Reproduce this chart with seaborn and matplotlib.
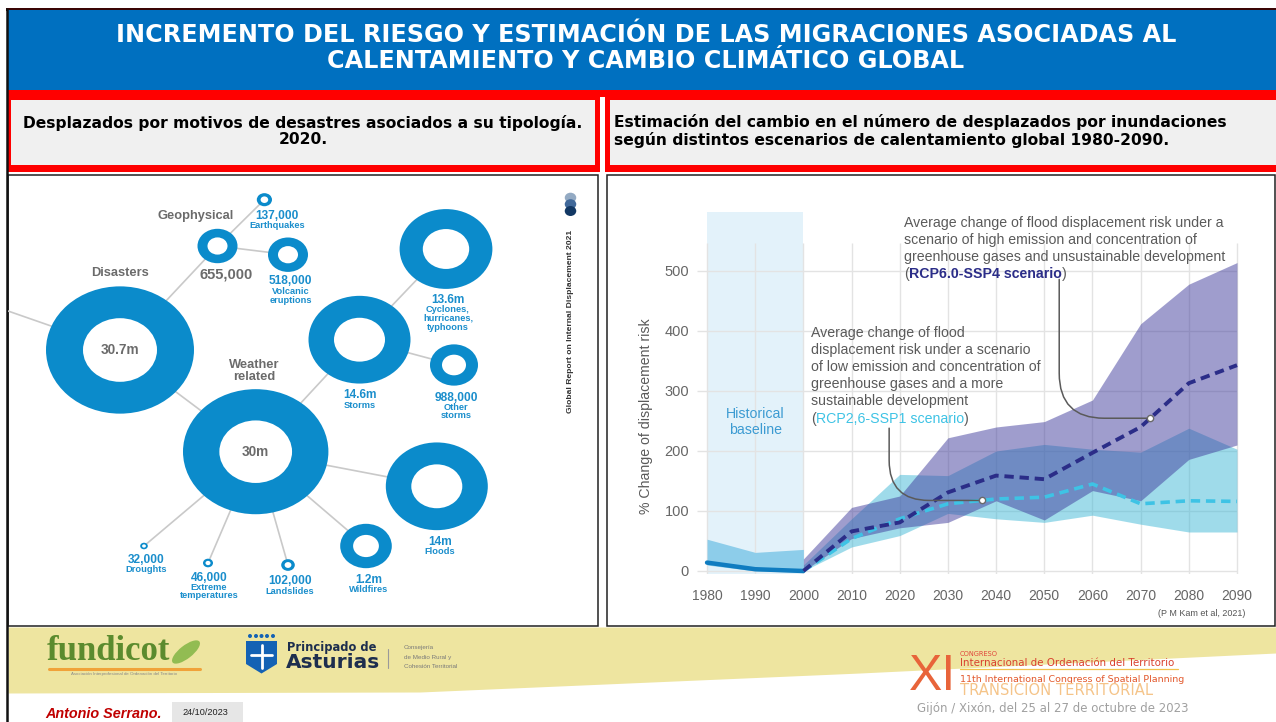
import numpy as np
import pandas as pd
import matplotlib
matplotlib.use("Agg")
import matplotlib.pyplot as plt
from matplotlib.patches import Rectangle, Ellipse, Polygon
from matplotlib import font_manager
import seaborn as sns

# ---------------------------------------------------------------- text content
TITLE = ["INCREMENTO DEL RIESGO Y ESTIMACIÓN DE LAS MIGRACIONES ASOCIADAS AL",
         "CALENTAMIENTO Y CAMBIO CLIMÁTICO GLOBAL"]
LEFT_SUB = ["Desplazados por motivos de desastres asociados a su tipología.", "2020."]
RIGHT_SUB = ["Estimación del cambio en el número de desplazados por inundaciones",
             "según distintos escenarios de calentamiento global 1980-2090."]

# ---------------------------------------------------------------- flood chart data
tick_years = [1980, 1990, 2000, 2010, 2020, 2030, 2040, 2050, 2060, 2070, 2080, 2090]
y_ticks = [0, 100, 200, 300, 400, 500]

hist_years = [1980, 1990, 2000]
hist_mean = [14, 3, 0]
hist_low = [10, 0, -2]
hist_high = [53, 31, 36]

proj_years = [2000, 2010, 2020, 2030, 2040, 2050, 2060, 2070, 2080, 2090]
rcp60_mean = [0, 66, 81, 131, 159, 153, 197, 240, 313, 343]
rcp60_low = [0, 54, 72, 81, 117, 85, 134, 117, 186, 210]
rcp60_high = [20, 106, 125, 222, 240, 249, 285, 412, 478, 514]
rcp26_mean = [0, 54, 87, 112, 120, 123, 145, 112, 117, 116]
rcp26_low = [0, 40, 59, 96, 87, 81, 93, 78, 65, 65]
rcp26_high = [10, 87, 161, 159, 200, 211, 203, 198, 238, 203]

note_high = ["Average change of flood displacement risk under a",
             "scenario of high emission and concentration of",
             "greenhouse gases and unsustainable development"]
note_high_tag = "RCP6.0-SSP4 scenario"
note_low = ["Average change of flood",
            "displacement risk under a scenario",
            "of low emission and concentration of",
            "greenhouse gases and a more",
            "sustainable development"]
note_low_tag = "RCP2,6-SSP1 scenario"
y_label = "% Change of displacement risk"
source = "(P M Kam et al, 2021)"

# ---------------------------------------------------------------- bubble infographic data
bubble_value_text = ["30.7m", "30m", "655,000", "137,000", "518,000", "14.6m", "13.6m",
                     "988,000", "14m", "1.2m", "102,000", "46,000", "32,000"]
bubble_names = ["Disasters", "Weather\nrelated", "Geophysical", "Earthquakes",
                "Volcanic\neruptions", "Storms", "Cyclones,\nhurricanes,\ntyphoons",
                "Other\nstorms", "Floods", "Wildfires", "Landslides",
                "Extreme\ntemperatures", "Droughts"]
bubble_parent = [-1, 0, 0, 2, 2, 1, 5, 5, 1, 1, 1, 1, 1]
bubble_level = ["top", "top", "top", "leaf", "leaf", "leaf", "leaf", "leaf",
                "leaf", "leaf", "leaf", "leaf", "leaf"]

# layout (pixel positions in the slide)
bub_cx = [120, 255.7, 217.5, 264.4, 288, 359.5, 446, 454, 436.8, 366, 288, 208, 144]
bub_cy = [350, 451.7, 246, 199.7, 254.7, 339.7, 249, 365, 486.3, 546, 565, 563, 546]
bub_rx = [74, 72.7, 20, 7.6, 20, 51, 46.4, 24, 51, 25.8, 6.8, 5.0, 3.8]
val_x = [120, 255.7, 225.8, 277, 290.6, 359.5, 448, 456, 440, 369, 290, 208.8, 146]
val_y = [350, 452, 274.7, 216, 281.3, 395.3, 300, 397.7, 542, 579.7, 581, 577.7, 560]
name_x = [120, 254, 195.5, 277, 291, 359.5, 448, 456, 440, 369, 290, 208.8, 146]
name_y = [273, 365.3, 216, 226, 291.5, 405.3, 309.3, 407, 551, 589, 591, 587, 570]

# ---------------------------------------------------------------- style
sns.set_theme(style="white")
avail = {f.name for f in font_manager.fontManager.ttflist}
plt.rcParams['font.family'] = ['Liberation Sans', 'DejaVu Sans']
NARROW = 'Liberation Sans Narrow' if 'Liberation Sans Narrow' in avail else 'Liberation Sans'
WIDE = ['DejaVu Sans']

BLUE_HDR = "#0070C0"
RED = "#FF0000"
GREY_BOX = "#F0F0F0"
RING = "#0B8BCB"
RING_TXT = "#1A8ECC"
CAT_TXT = "#6B6B6B"
NOTE_TXT = "#5A5A5A"
NAVY = "#2B2D88"
CYAN = "#3EC3E5"

W, H = 1276, 722
fig = plt.figure(figsize=(W / 100, H / 100), dpi=100)
fig.patch.set_facecolor("white")


def px_axes(x0, y0, x1, y1, z):
    return fig.add_axes([x0 / W, 1 - y1 / H, (x1 - x0) / W, (y1 - y0) / H], zorder=z)


bg = px_axes(0, 0, W, H, 0)
bg.set_xlim(0, W); bg.set_ylim(H, 0); bg.axis("off")
ov = px_axes(0, 0, W, H, 6)
ov.set_xlim(0, W); ov.set_ylim(H, 0); ov.axis("off")

# ---------------------------------------------------------------- header shapes
bg.add_patch(Rectangle((6, 8), W - 6, 2.5, color="#3A0505", lw=0))
bg.add_patch(Rectangle((8, 10), W - 8, 80, color=BLUE_HDR, lw=0))
bg.add_patch(Rectangle((8, 90), W - 8, 7, color=RED, lw=0))
bg.add_patch(Rectangle((8, 90), 592, 82, color=RED, lw=0))
bg.add_patch(Rectangle((10.5, 100), 584.5, 65, color=GREY_BOX, lw=0))
bg.add_patch(Rectangle((605, 90), W - 605, 82, color=RED, lw=0))
bg.add_patch(Rectangle((609.5, 100), W - 609.5, 65, color=GREY_BOX, lw=0))
bg.add_patch(Rectangle((600, 97), 5, 80, color="white", lw=0))

# panels
bg.add_patch(Rectangle((8, 175), 590, 451, facecolor="white", edgecolor="#222222", lw=1.1))
bg.add_patch(Rectangle((607, 175), 668, 451, facecolor="white", edgecolor="#222222", lw=1.1))

# footer band
fx = np.array([8, 420, 860, 1276])
fy = np.array([693, 692, 673, 653])
bg.fill_between(fx, 627, fy, color="#EEE5A0", lw=0)
# left frame line
bg.plot([7.2, 7.2], [8, H], color="#111111", lw=1.8, solid_capstyle="butt")

# ---------------------------------------------------------------- header text
ov.text(646, 35, TITLE[0], ha="center", va="center", color="white",
        fontsize=17.2, fontweight="bold", family=WIDE)
ov.text(646, 61, TITLE[1], ha="center", va="center", color="white",
        fontsize=17.2, fontweight="bold", family=WIDE)
ov.text(303, 123, LEFT_SUB[0], ha="center", va="center", color="black",
        fontsize=11.2, fontweight="bold", family=WIDE)
ov.text(303, 140, LEFT_SUB[1], ha="center", va="center", color="black",
        fontsize=11.2, fontweight="bold", family=WIDE)
ov.text(614, 122.5, RIGHT_SUB[0], ha="left", va="center", color="black",
        fontsize=11.2, fontweight="bold", family=WIDE)
ov.text(614, 139.5, RIGHT_SUB[1], ha="left", va="center", color="black",
        fontsize=11.2, fontweight="bold", family=WIDE)

# ---------------------------------------------------------------- right: flood chart
ax = px_axes(697.4, 212, 1239.4, 574, 2)
ax.set_xlim(1978, 2090.5)
ax.set_ylim(-5, 598.3)
ax.patch.set_alpha(0)
sns.despine(ax=ax, left=True, bottom=True)

ax.axvspan(hist_years[0], hist_years[-1], color="#E3F2FA", lw=0, zorder=0)
ax.vlines(tick_years, -5, 547, color="#E3E3E3", lw=1.0, zorder=0.5)
ax.hlines(y_ticks, 1978, tick_years[-1], color="#E3E3E3", lw=1.0, zorder=0.5)

ax.fill_between(hist_years, hist_low, hist_high, color="#8DCDEA", lw=0, zorder=1)
ax.fill_between(proj_years, rcp26_low, rcp26_high, color="#41B9D7", alpha=0.5, lw=0, zorder=1.2)
ax.fill_between(proj_years, rcp60_low, rcp60_high, color="#413D9D", alpha=0.5, lw=0, zorder=1.4)

sns.lineplot(x=hist_years, y=hist_mean, ax=ax, color="#0F7CC0", lw=3.2, zorder=3)
sns.lineplot(x=proj_years, y=rcp26_mean, ax=ax, color=CYAN, lw=2.6,
             linestyle=(0, (2.6, 1.6)), zorder=3)
sns.lineplot(x=proj_years, y=rcp60_mean, ax=ax, color=NAVY, lw=2.8,
             linestyle=(0, (2.4, 1.5)), zorder=3.5)

ax.set_xticks(tick_years)
ax.set_yticks(y_ticks)
ax.set_xlabel(""); ax.set_ylabel("")
ax.tick_params(axis="x", length=0, pad=11, labelsize=10, labelcolor="#666666")
ax.tick_params(axis="y", length=0, pad=6, labelsize=10.5, labelcolor="#666666")
ax.grid(False)

ax.text(1990, 248, "Historical\nbaseline", ha="center", va="center", color="#3C9BD2",
        fontsize=10.2, linespacing=1.15, zorder=4)

# connectors to the mean lines
p_high = (2072, float(np.interp(2072, proj_years, rcp60_mean)))
p_low = (2037, float(np.interp(2037, proj_years, rcp26_mean)))
for p, start, rad in [(p_high, (2053.1, 486), 45), (p_low, (2017.8, 238), 40)]:
    ax.annotate("", xy=p, xytext=start, zorder=5,
                arrowprops=dict(arrowstyle="-", color="#5A5A5A", lw=1.1,
                                shrinkA=0, shrinkB=2,
                                connectionstyle=f"angle,angleA=90,angleB=0,rad={rad}"))
    ax.plot(*p, "o", ms=4.5, mfc="white", mec="#6A6A6A", mew=1, zorder=6)

# notes
for i, s in enumerate(note_high):
    ov.text(904.5, 222.7 + i * 17.2, s, ha="left", va="center", color=NOTE_TXT, fontsize=10.2)
t0 = ov.text(904.5, 274.3, "(", ha="left", va="center", color=NOTE_TXT, fontsize=10.2)
t1 = ov.annotate(note_high_tag, xy=(1, 0), xycoords=t0, ha="left", va="bottom",
                 color=NAVY, fontsize=10.2, fontweight="bold")
ov.annotate(")", xy=(1, 0), xycoords=t1, ha="left", va="bottom", color=NOTE_TXT, fontsize=10.2)

for i, s in enumerate(note_low):
    ov.text(811, 332.7 + i * 17.2, s, ha="left", va="center", color=NOTE_TXT, fontsize=10.2)
t0 = ov.text(811, 418.7, "(", ha="left", va="center", color=NOTE_TXT, fontsize=10.2)
t1 = ov.annotate(note_low_tag, xy=(1, 0), xycoords=t0, ha="left", va="bottom",
                 color=CYAN, fontsize=10.2)
ov.annotate(")", xy=(1, 0), xycoords=t1, ha="left", va="bottom", color=NOTE_TXT, fontsize=10.2)

ov.text(646, 416, y_label, rotation=90, ha="center", va="center", color="#5A5A5A",
        fontsize=10.2)
ov.text(1202, 613, source, ha="center", va="center", color="#555555", fontsize=6.5)

# ---------------------------------------------------------------- left: bubble infographic
lx = px_axes(8, 175, 598, 626, 2)
lx.set_xlim(8, 598); lx.set_ylim(626, 175); lx.axis("off")

STRETCH = 0.86  # vertical / horizontal radius of the (stretched) rings
lx.plot([8, bub_cx[0]], [311, bub_cy[0]], color="#C9C9C9", lw=1.2, zorder=1)
for i, par in enumerate(bubble_parent):
    if par >= 0:
        lx.plot([bub_cx[par], bub_cx[i]], [bub_cy[par], bub_cy[i]],
                color="#C9C9C9", lw=1.2, zorder=1)
for i in range(len(bub_cx)):
    rx = bub_rx[i]
    lx.add_patch(Ellipse((bub_cx[i], bub_cy[i]), 2 * rx, 2 * rx * STRETCH,
                         color=RING, lw=0, zorder=2))
    lx.add_patch(Ellipse((bub_cx[i], bub_cy[i]), rx, rx * STRETCH,
                         color="white", lw=0, zorder=3))

for i in range(len(bub_cx)):
    lines = bubble_names[i].split("\n")
    if bubble_level[i] == "top":
        fs_val = 10.6 if i == 2 else 9.8
        lx.text(val_x[i], val_y[i], bubble_value_text[i], ha="center", va="center",
                color=CAT_TXT, fontsize=fs_val, fontweight="bold", zorder=5)
        for j, s in enumerate(lines):
            lx.text(name_x[i], name_y[i] + j * 11.4, s, ha="center", va="center",
                    color=CAT_TXT, fontsize=9.3, fontweight="bold", zorder=5)
    else:
        lx.text(val_x[i], val_y[i], bubble_value_text[i], ha="center", va="center",
                color=RING_TXT, fontsize=8.6, fontweight="bold", zorder=5)
        for j, s in enumerate(lines):
            lx.text(name_x[i], name_y[i] + j * 9.0, s, ha="center", va="center",
                    color=RING_TXT, fontsize=6.7, fontweight="bold", zorder=5)

# report mark
for cy, c in zip([197.7, 204.2, 211], ["#93AAC3", "#41699A", "#123864"]):
    lx.add_patch(Ellipse((570.5, cy), 11.5, 10, color=c, lw=0, zorder=4))
lx.text(570.5, 321, "Global Report on Internal Displacement 2021", rotation=90,
        ha="center", va="center", color="#333333", fontsize=6.1, fontweight="bold", zorder=5)

# ---------------------------------------------------------------- footer logos
ov.text(47, 651, "fundicot", ha="left", va="center", color="#5B8B2E", fontsize=25,
        fontweight="bold", family=["Liberation Serif", "DejaVu Serif"])
ov.add_patch(Ellipse((186, 652), 34, 13, angle=-38, color="#92BC52", lw=0))
ov.plot([49, 200], [669, 669], color="#F0A23A", lw=2.2)
ov.text(124, 674, "Asociación Interprofesional de Ordenación del Territorio", ha="center",
        va="center", color="#888888", fontsize=3.2)

shield = Polygon([(246, 641), (277, 641), (277, 664), (261.5, 673.5), (246, 664)],
                 closed=True, color="#1462B4", lw=0)
ov.add_patch(shield)
ov.plot([261.5, 261.5], [645, 668], color="white", lw=2)
ov.plot([251, 272], [655, 655], color="white", lw=2)
for cx in [250, 256, 261.5, 267, 273]:
    ov.add_patch(Ellipse((cx, 636), 4, 4, color="#1462B4", lw=0))
ov.text(287, 647.5, "Principado de", ha="left", va="center", color="#1D2E4E",
        fontsize=8.3, fontweight="bold", family=WIDE)
ov.text(286, 662.5, "Asturias", ha="left", va="center", color="#1D2E4E",
        fontsize=14.5, fontweight="bold", family=WIDE)
ov.plot([388, 388], [649, 668], color="#9A9A9A", lw=0.8)
for j, s in enumerate(["Consejería", "de Medio Rural y", "Cohesión Territorial"]):
    ov.text(404, 648 + j * 9, s, ha="left", va="center", color="#7A7A7A", fontsize=4.5)

ov.text(932, 677, "XI", ha="center", va="center", color="#E8643A", fontsize=36,
        family=[NARROW, "DejaVu Sans"])
ov.text(960, 654.5, "CONGRESO", ha="left", va="center", color="#E0453A", fontsize=4.8,
        family=WIDE)
ov.text(960, 662.5, "Internacional de Ordenación del Territorio", ha="left", va="center",
        color="#D9402F", fontsize=7.4, family=WIDE)
ov.plot([960, 1178], [668.5, 668.5], color="#F2C14A", lw=0.9)
ov.text(960, 680, "11th International Congress of Spatial Planning", ha="left",
        va="center", color="#E3592D", fontsize=6.8, family=WIDE)
ov.text(960, 690.5, "TRANSICIÓN TERRITORIAL", ha="left", va="center", color="#F5C489",
        fontsize=10.6, family=WIDE)
ov.text(917, 708.5, "Gijón / Xixón, del 25 al 27 de octubre de 2023", ha="left",
        va="center", color="#A0A0A0", fontsize=8.5, family=WIDE)

ov.text(45, 718.5, "Antonio Serrano.", ha="left", va="baseline", color="#C00000",
        fontsize=10.4, fontweight="bold", style="italic")
ov.add_patch(Rectangle((172, 702), 71, 20, color="#E6E6E6", lw=0))
ov.text(205, 712.5, "24/10/2023", ha="center", va="center", color="#222222", fontsize=6.6)

fig.savefig("out.png", dpi=100)
